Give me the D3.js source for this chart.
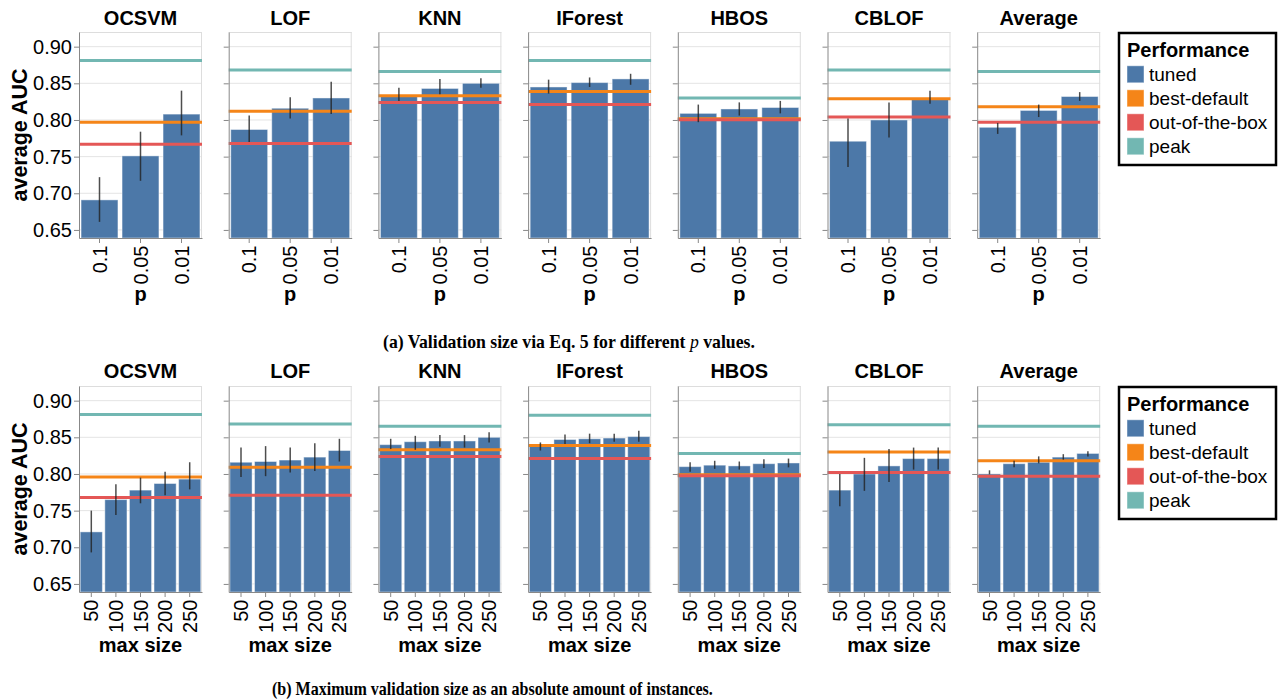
<!DOCTYPE html>
<html>
<head>
<meta charset="utf-8">
<script src="https://cdn.jsdelivr.net/npm/d3@7"></script>
<style>
  body { margin: 0; background: #fff; }
  svg { display: block; font-family: "Liberation Sans", Arial, sans-serif; }
</style>
</head>
<body>
<svg id="chart" width="1278" height="700"></svg>
<script>
var methods = ["OCSVM", "LOF", "KNN", "IForest", "HBOS", "CBLOF", "Average"];
var pValues = ["0.1", "0.05", "0.01"];
var sizeValues = ["50", "100", "150", "200", "250"];
var yTicks = [0.65, 0.70, 0.75, 0.80, 0.85, 0.90];
var perfLabels = ["tuned", "best-default", "out-of-the-box", "peak"];

// (a) validation size via p
var tunedP = [
    [0.691, 0.751, 0.808],
    [0.787, 0.816, 0.830],
    [0.834, 0.843, 0.850],
    [0.845, 0.851, 0.856],
    [0.809, 0.815, 0.817],
    [0.771, 0.800, 0.828],
    [0.790, 0.813, 0.832]
];
var loP = [
    [0.661, 0.717, 0.779],
    [0.770, 0.802, 0.808],
    [0.826, 0.835, 0.844],
    [0.836, 0.845, 0.848],
    [0.797, 0.806, 0.809],
    [0.736, 0.776, 0.822],
    [0.781, 0.804, 0.826]
];
var hiP = [
    [0.722, 0.784, 0.840],
    [0.806, 0.831, 0.852],
    [0.844, 0.856, 0.857],
    [0.855, 0.858, 0.863],
    [0.821, 0.824, 0.826],
    [0.802, 0.824, 0.840],
    [0.796, 0.821, 0.838]
];
var bestDefaultP = [0.797, 0.812, 0.833, 0.839, 0.8015, 0.829, 0.818];
var outOfBoxP = [0.767, 0.768, 0.824, 0.821, 0.8003, 0.804, 0.797];
var peakP = [0.881, 0.868, 0.866, 0.881, 0.830, 0.868, 0.866];

// (b) maximum validation size
var tunedS = [
    [0.721, 0.765, 0.778, 0.787, 0.793],
    [0.816, 0.817, 0.819, 0.823, 0.832],
    [0.840, 0.844, 0.845, 0.845, 0.850],
    [0.838, 0.847, 0.848, 0.849, 0.851],
    [0.810, 0.812, 0.811, 0.814, 0.815],
    [0.778, 0.800, 0.811, 0.821, 0.821],
    [0.800, 0.814, 0.816, 0.823, 0.828]
];
var loS = [
    [0.693, 0.744, 0.760, 0.771, 0.779],
    [0.796, 0.797, 0.802, 0.804, 0.817],
    [0.834, 0.833, 0.837, 0.836, 0.843],
    [0.832, 0.841, 0.842, 0.844, 0.844],
    [0.803, 0.807, 0.806, 0.808, 0.809],
    [0.756, 0.777, 0.789, 0.806, 0.806],
    [0.7995, 0.809, 0.8145, 0.8195, 0.824]
];
var hiS = [
    [0.750, 0.786, 0.795, 0.803, 0.816],
    [0.836, 0.838, 0.836, 0.842, 0.848],
    [0.848, 0.852, 0.853, 0.853, 0.857],
    [0.843, 0.854, 0.855, 0.855, 0.859],
    [0.816, 0.818, 0.817, 0.820, 0.821],
    [0.800, 0.822, 0.834, 0.836, 0.836],
    [0.805, 0.818, 0.824, 0.827, 0.831]
];
var bestDefaultS = [0.796, 0.809, 0.833, 0.839, 0.799, 0.830, 0.818];
var outOfBoxS = [0.768, 0.771, 0.824, 0.821, 0.7977, 0.802, 0.797];
var peakS = [0.881, 0.868, 0.865, 0.880, 0.828, 0.867, 0.865];

var colors = {
    "tuned": "#4c78a8",
    "best-default": "#f58518",
    "out-of-the-box": "#e45756",
    "peak": "#72b7b2"
};

var W = 123, H = 206, step = 149.7, left = 79;

var rows = [
    { top: 32, cats: pValues, tuned: tunedP, lo: loP, hi: hiP, best: bestDefaultP, oob: outOfBoxP, peak: peakP, xTitle: "p", xTitleY: H + 63 },
    { top: 386, cats: sizeValues, tuned: tunedS, lo: loS, hi: hiS, best: bestDefaultS, oob: outOfBoxS, peak: peakS, xTitle: "max size", xTitleY: H + 60 }
];

var svg = d3.select("#chart");

var y = d3.scaleLinear().domain([0.639, 0.92]).range([H, 0]);

rows.forEach(function (row) {
    methods.forEach(function (m, i) {
        var g = svg.append("g")
            .attr("transform", "translate(" + (left + i * step) + "," + row.top + ")");

        var x = d3.scaleBand()
            .domain(row.cats)
            .range([0, W])
            .paddingInner(0.1)
            .paddingOuter(0.05);

        // grid + frame
        g.selectAll(".grid").data(yTicks).enter().append("line")
            .attr("x1", 0).attr("x2", W)
            .attr("y1", function (d) { return y(d); })
            .attr("y2", function (d) { return y(d); })
            .attr("stroke", "#e4e4e4");
        g.append("line").attr("x1", 0).attr("x2", W).attr("y1", 0.5).attr("y2", 0.5).attr("stroke", "#dddddd");
        g.append("line").attr("x1", W - 0.5).attr("x2", W - 0.5).attr("y1", 0).attr("y2", H).attr("stroke", "#dddddd");

        var vals = row.cats.map(function (c, j) {
            return { cat: c, v: row.tuned[i][j], lo: row.lo[i][j], hi: row.hi[i][j] };
        });

        g.selectAll(".bar").data(vals).enter().append("rect")
            .attr("x", function (d) { return x(d.cat); })
            .attr("width", x.bandwidth())
            .attr("y", function (d) { return y(d.v); })
            .attr("height", function (d) { return H - y(d.v); })
            .attr("fill", colors["tuned"])
            .attr("stroke", "#ffffff")
            .attr("stroke-opacity", 0.45)
            .attr("stroke-width", 1);

        [["best-default", row.best[i]], ["out-of-the-box", row.oob[i]], ["peak", row.peak[i]]].forEach(function (r) {
            g.append("line")
                .attr("x1", 0).attr("x2", W)
                .attr("y1", y(r[1])).attr("y2", y(r[1]))
                .attr("stroke", colors[r[0]])
                .attr("stroke-width", 3);
        });

        g.selectAll(".err").data(vals).enter().append("line")
            .attr("x1", function (d) { return x(d.cat) + x.bandwidth() / 2; })
            .attr("x2", function (d) { return x(d.cat) + x.bandwidth() / 2; })
            .attr("y1", function (d) { return y(d.lo); })
            .attr("y2", function (d) { return y(d.hi); })
            .attr("stroke", "#222")
            .attr("stroke-opacity", 0.8)
            .attr("stroke-width", 1.5);

        // axes
        var ya = g.append("g")
            .call(d3.axisLeft(y).tickValues(yTicks).tickSize(5).tickSizeOuter(0).tickPadding(2)
                .tickFormat(i === 0 ? d3.format(".2f") : function () { return ""; }))
            .attr("font-family", null).attr("font-size", 20);
        ya.selectAll("path, line").attr("stroke", "#888");
        ya.selectAll("text").attr("fill", "#000");

        var xa = g.append("g")
            .attr("transform", "translate(0," + H + ")")
            .call(d3.axisBottom(x).tickSize(5).tickSizeOuter(0))
            .attr("font-family", null).attr("font-size", 20);
        xa.selectAll("path, line").attr("stroke", "#888");
        xa.selectAll("text")
            .attr("fill", "#000")
            .attr("transform", "rotate(-90)")
            .attr("text-anchor", "end")
            .attr("x", -7.5).attr("y", 0).attr("dy", "0.35em");

        g.append("text")
            .attr("x", W / 2).attr("y", row.top === 32 ? -7.5 : -8)
            .attr("text-anchor", "middle")
            .attr("font-size", 20).attr("font-weight", "bold")
            .text(m);

        g.append("text")
            .attr("x", W / 2).attr("y", row.xTitleY)
            .attr("text-anchor", "middle")
            .attr("font-size", 20).attr("font-weight", "bold")
            .text(row.xTitle);

        if (i === 0) {
            g.append("text")
                .attr("transform", "translate(-52," + (H / 2) + ") rotate(-90)")
                .attr("text-anchor", "middle")
                .attr("font-size", 21.5).attr("font-weight", "bold")
                .text("average AUC");
        }
    });

    // legend
    var lg = svg.append("g").attr("transform", "translate(1118," + row.top + ")");
    lg.append("rect")
        .attr("x", 1).attr("y", 1).attr("width", 157).attr("height", 132)
        .attr("fill", "#fff").attr("stroke", "#000").attr("stroke-width", 2.5);
    lg.append("text")
        .attr("x", 9).attr("y", 24.5)
        .attr("font-size", 20).attr("font-weight", "bold")
        .text("Performance");
    lg.selectAll(".item").data(perfLabels).enter().append("g")
        .attr("transform", function (d, k) { return "translate(9," + (42.3 + k * 24) + ")"; })
        .each(function (d) {
            var it = d3.select(this);
            it.append("rect")
                .attr("x", 0).attr("y", -8.5).attr("width", 17).attr("height", 17)
                .attr("fill", colors[d])
                .attr("stroke", "#fff").attr("stroke-opacity", 0.45);
            it.append("text")
                .attr("x", 22).attr("y", 0).attr("dy", "0.35em")
                .attr("font-size", 19)
                .text(d);
        });
});

// captions: serif bold, squeezed horizontally to the measured width
function fitCaption(sel, x0, y0, width) {
    var len = sel.node().getComputedTextLength();
    sel.attr("transform", "translate(" + x0 + "," + y0 + ") scale(" + (width / len) + ",1)");
}

var cap = svg.append("g").attr("font-family", "'Liberation Serif', 'DejaVu Serif', serif").attr("font-weight", "bold");
var capA = cap.append("text").attr("font-size", 19.5);
capA.append("tspan").text("(a) Validation size via Eq. 5 for different ");
capA.append("tspan").attr("font-style", "italic").attr("font-weight", "normal").text("p");
capA.append("tspan").text(" values.");
fitCaption(capA, 383, 348, 372);

var capB = cap.append("text").attr("font-size", 19.5)
    .text("(b) Maximum validation size as an absolute amount of instances.");
fitCaption(capB, 272, 695, 441);
</script>
</body>
</html>
